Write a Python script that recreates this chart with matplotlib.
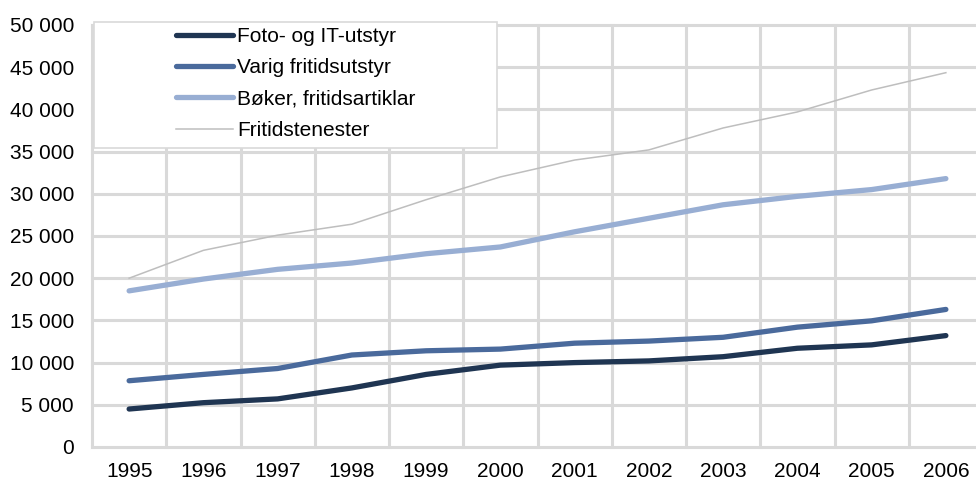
import matplotlib
matplotlib.use("Agg")
import matplotlib.pyplot as plt
from matplotlib.patches import Rectangle
from matplotlib.ticker import FuncFormatter, MultipleLocator
import numpy as np

plt.rcParams['font.family'] = ['Liberation Sans', 'DejaVu Sans']

years = ['1995', '1996', '1997', '1998', '1999', '2000', '2001', '2002', '2003', '2004', '2005', '2006']
foto_it = [4500, 5250, 5700, 7000, 8600, 9700, 10000, 10200, 10700, 11700, 12100, 13200]
varig = [7850, 8600, 9300, 10900, 11400, 11600, 12300, 12550, 13000, 14200, 14950, 16300]
boker = [18500, 19900, 21050, 21800, 22900, 23700, 25500, 27100, 28700, 29700, 30500, 31800]
tenester = [20000, 23300, 25100, 26400, 29300, 32000, 34000, 35200, 37800, 39700, 42300, 44350]

series_labels = ['Foto- og IT-utstyr', 'Varig fritidsutstyr', 'Bøker, fritidsartiklar', 'Fritidstenester']

fig = plt.figure(figsize=(9.76, 4.79), dpi=100)
ax = fig.add_axes([92/976, 32/479, 891/976, 422/479])

x = np.arange(len(years))
kw = dict(lw=3.8, solid_capstyle='round', solid_joinstyle='round', zorder=4)
l1, = ax.plot(x, foto_it, color='#1F3552', **kw)
l2, = ax.plot(x, varig, color='#4A6A9C', **kw)
l3, = ax.plot(x, boker, color='#98AED3', **kw)
l4, = ax.plot(x, tenester, color='#BEBEBE', lw=1.1, zorder=4)

ax.set_xlim(-0.5, len(years) - 0.5)
ax.set_ylim(0, 50000)
ax.set_xticks(x)
ax.set_xticklabels(years)
ax.set_xticks(np.arange(-0.5, len(years), 1.0), minor=True)
ax.yaxis.set_major_locator(MultipleLocator(5000))
ax.yaxis.set_major_formatter(FuncFormatter(lambda v, p: f"{int(v):,}".replace(',', ' ')))

ax.grid(False)
ax.grid(True, axis='y', which='major', color='#D9D9D9', lw=2.2, zorder=0)
ax.grid(True, axis='x', which='minor', color='#D9D9D9', lw=2.2, zorder=0)
for t in ax.xaxis.get_minor_ticks() + ax.yaxis.get_major_ticks():
    t.gridline.set_clip_on(False)
for s in ax.spines.values():
    s.set_visible(False)
ax.tick_params(axis='both', which='both', length=0, labelsize=15, colors='black')
ax.tick_params(axis='x', pad=10.5)
ax.tick_params(axis='y', pad=13)
ax.set_axisbelow(True)

# legend frame
fig.patches.append(Rectangle((94/976, 1 - 148/479), 403/976, 126/479, transform=fig.transFigure,
                             facecolor='white', edgecolor='#D9D9D9', lw=1.2, zorder=5))
leg = fig.legend([l1, l2, l3, l4], series_labels, loc='upper left',
                 bbox_to_anchor=(176/976, 1 - 27/479), frameon=False, fontsize=15,
                 handlelength=2.75, handletextpad=0.2, labelspacing=0.59,
                 borderpad=0, borderaxespad=0)
leg.set_zorder(6)

fig.savefig('out.png', dpi=100)
